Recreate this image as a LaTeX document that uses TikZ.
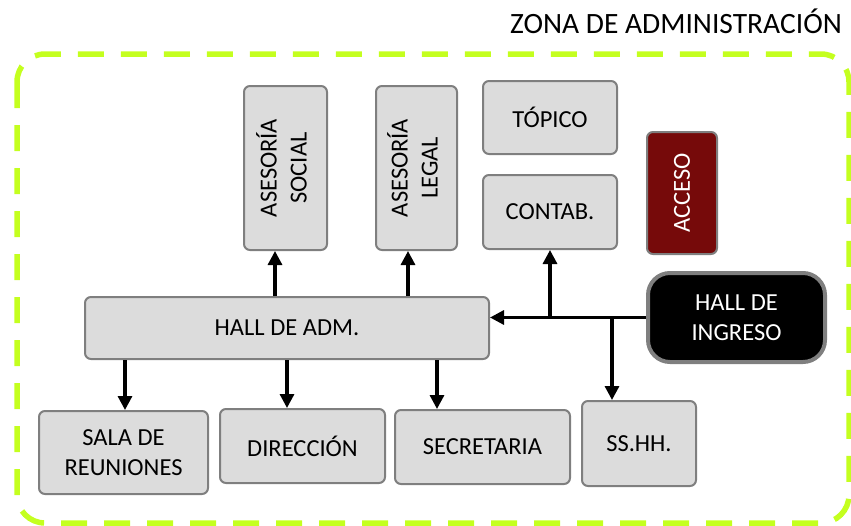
\documentclass[tikz,border=0pt]{standalone}
\usepackage{fontspec}
\setmainfont{Carlito}
\usetikzlibrary{arrows.meta}
\definecolor{limez}{HTML}{C4FF1F}
\definecolor{boxfill}{HTML}{DCDCDC}
\definecolor{boxline}{HTML}{7F7F7F}
\definecolor{accred}{HTML}{760A0A}
\begin{document}
\begin{tikzpicture}[x=1pt,y=-1pt,
  box/.style={draw=boxline, fill=boxfill, line width=2pt, rounded corners=6pt,
    inner sep=0pt, align=center, font=\fontsize{24.5}{30}\selectfont},
  arr/.style={line width=3.2pt, -{Triangle[length=14pt,width=14pt]}},
  zone/.style={draw=limez, line width=5.5pt, dash pattern=on 26pt off 17pt, rounded corners=28pt}]
\useasboundingbox (0,0) rectangle (851,525);
% zone border
\draw[zone] (17,54) rectangle (849,523);
\node[anchor=base east, inner sep=0pt, font=\fontsize{29.5}{35}\selectfont] (title) at (842,33) {ZONA DE ADMINISTRACIÓN};
% boxes
\node[box, minimum width=83pt, minimum height=164pt] (soc) at (285.5,168)
  {\rotatebox{90}{\begin{tabular}{@{}c@{}}ASESORÍA\\SOCIAL\end{tabular}}};
\node[box, minimum width=81pt, minimum height=164pt] (leg) at (416.5,168)
  {\rotatebox{90}{\begin{tabular}{@{}c@{}}ASESORÍA\\LEGAL\end{tabular}}};
\node[box, minimum width=134pt, minimum height=73pt] (top) at (550,117.5) {TÓPICO};
\node[box, minimum width=134pt, minimum height=74pt] (cont) at (550,212) {CONTAB.};
\node[box, fill=accred, text=white, minimum width=70pt, minimum height=122pt] (acc) at (682,193)
  {\rotatebox{90}{ACCESO}};
\node[box, fill=black, text=white, line width=4pt, rounded corners=22pt,
  minimum width=177pt, minimum height=89pt] (ing) at (736.5,317.5) {HALL DE\\INGRESO};
\node[box, minimum width=404pt, minimum height=62pt] (adm) at (287,328) {HALL DE ADM.};
\node[box, minimum width=169pt, minimum height=83pt] (sala) at (123.5,452.5) {SALA DE\\REUNIONES};
\node[box, minimum width=165pt, minimum height=74pt] (dir) at (302.5,446) {DIRECCIÓN};
\node[box, minimum width=175pt, minimum height=74pt] (sec) at (482.5,447) {SECRETARIA};
\node[box, minimum width=114pt, minimum height=85pt] (ss) at (639,443.5) {SS.HH.};
% connectors
\draw[arr] ([xshift=-10.5pt]soc.south |- adm.north) -- ([xshift=-10.5pt]soc.south);
\draw[arr] ([xshift=-8.5pt]leg.south |- adm.north) -- ([xshift=-8.5pt]leg.south);
\draw[arr] (ing.west) -- (ing.west -| adm.east);
\draw[arr] (ing.west -| cont.south) -- (cont.south);
\draw[arr] ([xshift=-27pt]ss.north |- ing.west) -- ([xshift=-27pt]ss.north);
\draw[arr] ([xshift=1.5pt]sala.north |- adm.south) -- ([xshift=1.5pt]sala.north);
\draw[arr] ([xshift=-15.5pt]dir.north |- adm.south) -- ([xshift=-15.5pt]dir.north);
\draw[arr] ([xshift=-45.5pt]sec.north |- adm.south) -- ([xshift=-45.5pt]sec.north);
\end{tikzpicture}
\end{document}
